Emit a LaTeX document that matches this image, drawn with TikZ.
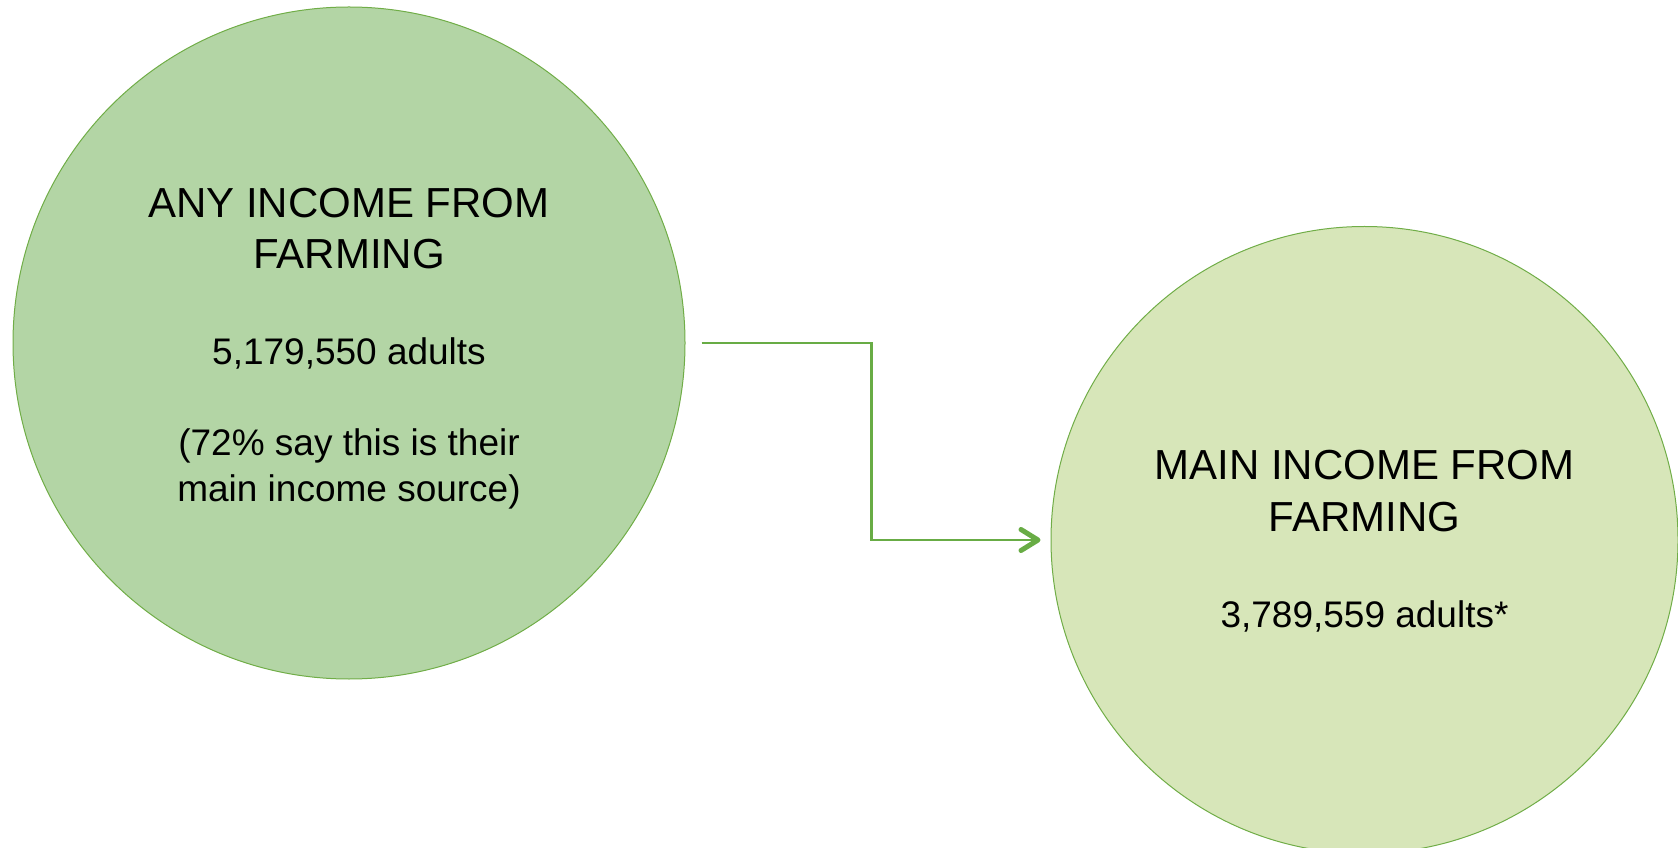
\documentclass[tikz,border=0pt]{standalone}
\usepackage{fontspec}
\setmainfont{Liberation Sans}
\usetikzlibrary{arrows.meta, calc}

\definecolor{anyfill}{HTML}{B3D5A5}
\definecolor{mainfill}{HTML}{D7E6B9}
\definecolor{rimgreen}{HTML}{70AD47}
\definecolor{linkgreen}{HTML}{68AC45}

\begin{document}
\begin{tikzpicture}[x=1pt, y=1pt,
  blob/.style={circle, draw=rimgreen, line width=1pt, inner sep=0pt},
  bigtext/.style={anchor=base, inner sep=0pt, font=\fontsize{42}{50}\selectfont},
  smalltext/.style={anchor=base, inner sep=0pt, font=\fontsize{37}{44}\selectfont},
  conn/.style={draw=linkgreen, line width=2.8pt,
    -{Straight Barb[length=17pt, width=21pt, line width=5pt, round]}}]

  \useasboundingbox (0,0) rectangle (1678,847);

  % the two circles
  \node[blob, fill=anyfill, minimum size=672pt] (any) at (349,504) {};
  \node[blob, fill=mainfill, minimum size=627pt] (main) at (1364.5,307) {};

  % text of the left circle
  \node[bigtext] (anyA) at (349,629) {ANY INCOME FROM};
  \node[bigtext] (anyB) at (349,578) {FARMING};
  \node[smalltext] (anyC) at (349,482) {5,179,550 adults};
  \node[smalltext] (anyD) at (349,391) {(72\% say this is their};
  \node[smalltext] (anyE) at (349,346) {main income source)};

  % text of the right circle
  \node[bigtext] (mainA) at (1364.5,367) {MAIN INCOME FROM};
  \node[bigtext] (mainB) at (1364.5,316) {FARMING};
  \node[smalltext] (mainC) at (1364.5,220) {3,789,559 adults*};

  % elbow connector
  \draw[conn] ([xshift=16pt]any.east) -- ++(170,0) |- ([xshift=-10pt]main.west);
\end{tikzpicture}
\end{document}
